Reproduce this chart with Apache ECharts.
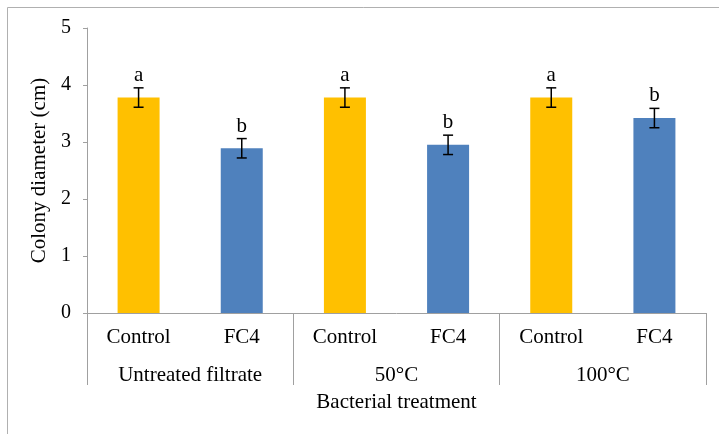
<!DOCTYPE html>
<html>
<head>
<meta charset="utf-8">
<script src="https://cdn.jsdelivr.net/npm/echarts@6/dist/echarts.min.js"></script>
<style>html,body{margin:0;padding:0;background:#fff}#c{width:719px;height:434px}</style>
</head>
<body>
<div id="c"></div>
<script>
const categories = ['Control', 'FC4', 'Control', 'FC4', 'Control', 'FC4'];
const groups = ['Untreated filtrate', '50\u00B0C', '100\u00B0C'];
const values = [3.78, 2.89, 3.78, 2.95, 3.78, 3.42];
const errors = [0.17, 0.17, 0.17, 0.17, 0.17, 0.17];
const letters = ['a', 'b', 'a', 'b', 'a', 'b'];
const yTicks = [0, 1, 2, 3, 4, 5];

const FONT = 'Liberation Serif';
const AXIS_COLOR = '#A0A0A0';
const YELLOW = '#FFC000';
const BLUE = '#4F81BD';

const chart = echarts.init(document.getElementById('c'), null, {renderer: 'canvas'});
const gridPos = {left: 87, right: 13, top: 28, bottom: 121, containLabel: false};

const option = {
  animation: false,
  backgroundColor: '#fff',
  graphic: [{
    type: 'rect', silent: true,
    shape: {x: 7.5, y: 7.5, width: 800, height: 800},
    style: {fill: null, stroke: '#B0B0B0', lineWidth: 1}
  }],
  grid: [Object.assign({}, gridPos), Object.assign({}, gridPos)],
  xAxis: [{
    type: 'category', gridIndex: 0, data: categories,
    axisLine: {show: true, lineStyle: {color: AXIS_COLOR, width: 1}},
    axisTick: {show: false},
    axisLabel: {color: '#000', fontFamily: FONT, fontSize: 21, margin: 14, interval: 0}
  }, {
    type: 'category', gridIndex: 1, data: groups,
    axisLine: {show: false},
    axisTick: {show: true, length: 72, lineStyle: {color: AXIS_COLOR, width: 1}},
    axisLabel: {color: '#000', fontFamily: FONT, fontSize: 21, margin: 52, interval: 0},
    name: 'Bacterial treatment', nameLocation: 'middle', nameGap: 79,
    nameTextStyle: {color: '#000', fontFamily: FONT, fontSize: 21}
  }],
  yAxis: [{
    type: 'value', gridIndex: 0, min: yTicks[0], max: yTicks[yTicks.length - 1], interval: 1,
    axisLine: {show: true, lineStyle: {color: AXIS_COLOR, width: 1}},
    axisTick: {show: true, length: 4, lineStyle: {color: AXIS_COLOR}},
    splitLine: {show: false},
    axisLabel: {color: '#000', fontFamily: FONT, fontSize: 20, margin: 16},
    name: 'Colony diameter (cm)', nameLocation: 'middle', nameRotate: 90, nameGap: 36,
    nameTextStyle: {color: '#000', fontFamily: FONT, fontSize: 21}
  }, {
    type: 'value', gridIndex: 1, min: 0, max: 5, show: false
  }],
  series: [{
    type: 'bar', xAxisIndex: 0, yAxisIndex: 0,
    barWidth: 42,
    data: values.map((v, i) => ({value: v, itemStyle: {color: categories[i] === 'Control' ? YELLOW : BLUE}}))
  }, {
    type: 'custom', xAxisIndex: 0, yAxisIndex: 0, z: 10,
    data: values.map((v, i) => [i, v, errors[i]]),
    renderItem: function (params, api) {
      const i = api.value(0), v = api.value(1), e = api.value(2);
      const hi = api.coord([i, v + e]);
      const lo = api.coord([i, v - e]);
      const cap = 5;
      const st = {stroke: '#000', lineWidth: 1.5};
      return {
        type: 'group',
        children: [
          {type: 'line', shape: {x1: hi[0], y1: hi[1], x2: lo[0], y2: lo[1]}, style: st},
          {type: 'line', shape: {x1: hi[0] - cap, y1: hi[1], x2: hi[0] + cap, y2: hi[1]}, style: st},
          {type: 'line', shape: {x1: lo[0] - cap, y1: lo[1], x2: lo[0] + cap, y2: lo[1]}, style: st},
          {type: 'text', x: hi[0], y: hi[1] - 2, style: {
            text: letters[params.dataIndex], fill: '#000', font: '21px "' + FONT + '"',
            align: 'center', verticalAlign: 'bottom'
          }}
        ]
      };
    }
  }]
};
chart.setOption(option);
</script>
</body>
</html>
